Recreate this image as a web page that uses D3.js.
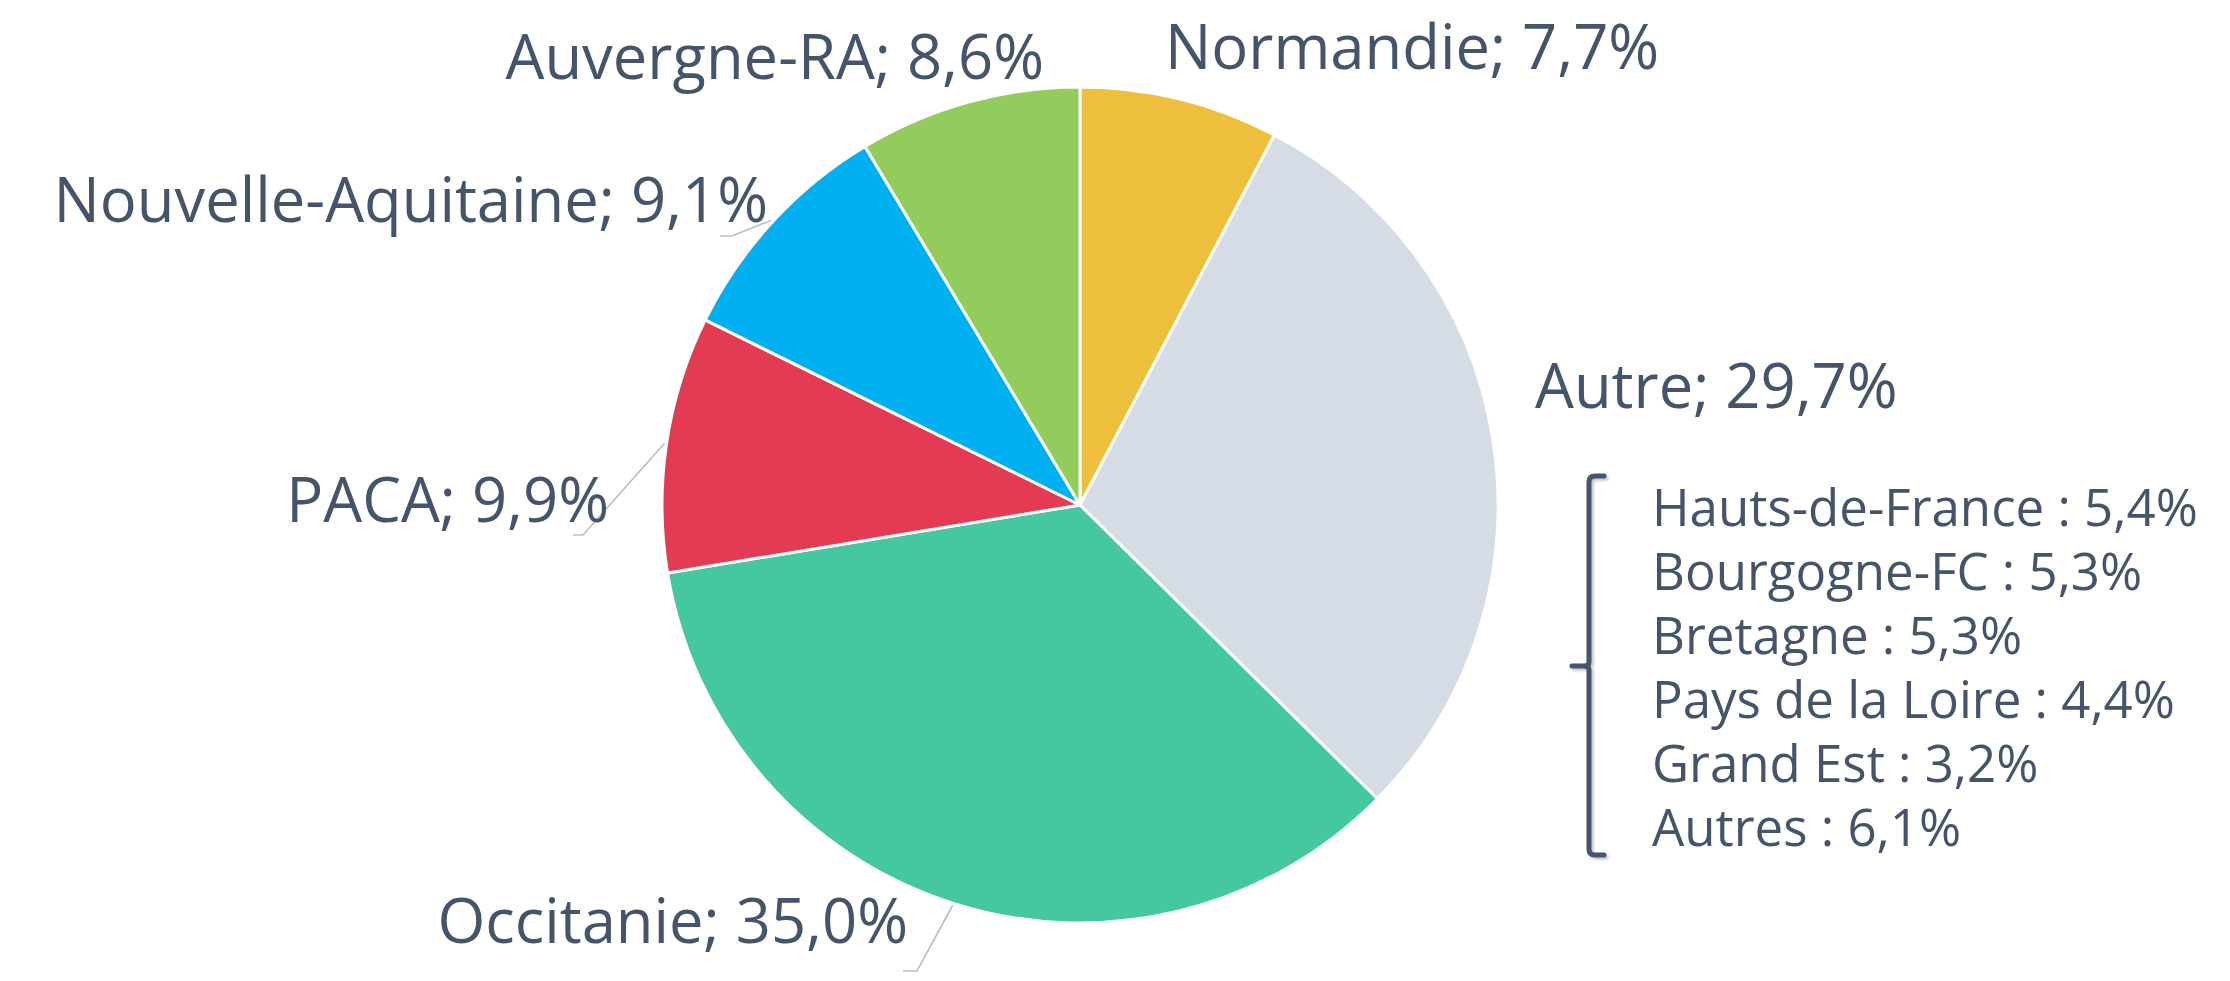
<!DOCTYPE html>
<html>
<head>
<meta charset="utf-8">
<script src="https://cdn.jsdelivr.net/npm/d3@7"></script>
<style>
  html, body { margin: 0; padding: 0; background: #ffffff; }
  svg { display: block; }
</style>
</head>
<body>
<svg id="chart" width="2230" height="981"></svg>
<script>
// Regional breakdown (share in %)
const regions = ["Normandie", "Autre", "Occitanie", "PACA", "Nouvelle-Aquitaine", "Auvergne-RA"];
const shares = [7.7, 29.7, 35.0, 9.9, 9.1, 8.6];
const sliceColors = ["#EDBF3C", "#D6DCE5", "#45C79F", "#E33B53", "#00B0F0", "#93CC5C"];

// Detail of the "Autre" slice
const detailRegions = ["Hauts-de-France", "Bourgogne-FC", "Bretagne", "Pays de la Loire", "Grand Est", "Autres"];
const detailShares = [5.4, 5.3, 5.3, 4.4, 3.2, 6.1];

// Layout
const W = 2230, H = 981;
const cx = 1080, cy = 505, radius = 418;
const textColor = "#44546A";
const leaderColor = "#B3BFCE";
const fontFamily = "'Segoe UI', 'Open Sans', 'Noto Sans', sans-serif";

// Label placement per slice: text anchor, anchor point, optional leader elbow
const labelLayout = [
  { anchor: "start", x: 1165, y: 69 },
  { anchor: "start", x: 1535, y: 408 },
  { anchor: "end", x: 908, y: 943, elbow: [917, 971], tail: [903, 971] },
  { anchor: "end", x: 609, y: 522, elbow: [583, 535], tail: [573, 535] },
  { anchor: "end", x: 768, y: 222, elbow: [732, 236], tail: [720, 236] },
  { anchor: "end", x: 1044, y: 79 }
];

const fmt = v => v.toFixed(1).replace(".", ",") + "%";

const svg = d3.select("#chart");

const defs = svg.append("defs");
const shadow = defs.append("filter").attr("id", "bracketShadow")
  .attr("x", "-50%").attr("y", "-10%").attr("width", "200%").attr("height", "120%");
shadow.append("feDropShadow").attr("dx", 2).attr("dy", 2)
  .attr("stdDeviation", 1.5).attr("flood-color", "#000").attr("flood-opacity", 0.25);

const data = regions.map((r, i) => ({ region: r, share: shares[i], color: sliceColors[i], layout: labelLayout[i] }));

const pie = d3.pie().sort(null).value(d => d.share);
const arcs = pie(data);
const arc = d3.arc().innerRadius(0).outerRadius(radius);
const edgeArc = d3.arc().innerRadius(radius + 2).outerRadius(radius + 2);

const g = svg.append("g").attr("transform", `translate(${cx},${cy})`);

g.selectAll("path.slice")
  .data(arcs)
  .join("path")
  .attr("class", "slice")
  .attr("d", arc)
  .attr("fill", d => d.data.color)
  .attr("stroke", "#ffffff")
  .attr("stroke-width", 3)
  .attr("stroke-linejoin", "round");

// Leader lines from slice edge to label
arcs.filter(d => d.data.layout.elbow).forEach(d => {
  const [sx, sy] = edgeArc.centroid(d);
  const L = d.data.layout;
  svg.append("polyline")
    .attr("points", [[cx + sx, cy + sy], L.elbow, L.tail].map(p => p.join(",")).join(" "))
    .attr("fill", "none")
    .attr("stroke", leaderColor)
    .attr("stroke-width", 1.6);
});

// Slice labels
svg.selectAll("text.slice-label")
  .data(arcs)
  .join("text")
  .attr("class", "slice-label")
  .attr("x", d => d.data.layout.x)
  .attr("y", d => d.data.layout.y)
  .attr("text-anchor", d => d.data.layout.anchor)
  .attr("font-family", fontFamily)
  .attr("font-size", 61.5)
  .attr("fill", textColor)
  .text(d => `${d.data.region}; ${fmt(d.data.share)}`);

// Bracket grouping the detail list
const bTop = 476, bMid = 666, bBot = 855, bX = 1589, bHook = 1604, bTip = 1572, rc = 6;
const bracket = d3.path();
bracket.moveTo(bHook, bTop);
bracket.lineTo(bX + rc, bTop);
bracket.quadraticCurveTo(bX, bTop, bX, bTop + rc);
bracket.lineTo(bX, bMid - 4);
bracket.quadraticCurveTo(bX, bMid, bX - 5, bMid);
bracket.lineTo(bTip, bMid);
bracket.moveTo(bX - 5, bMid);
bracket.quadraticCurveTo(bX, bMid, bX, bMid + 4);
bracket.lineTo(bX, bBot - rc);
bracket.quadraticCurveTo(bX, bBot, bX + rc, bBot);
bracket.lineTo(bHook, bBot);
svg.append("path")
  .attr("d", bracket.toString())
  .attr("fill", "none")
  .attr("stroke", textColor)
  .attr("stroke-width", 5)
  .attr("stroke-linecap", "round")
  .attr("stroke-linejoin", "round")
  .attr("filter", "url(#bracketShadow)");

// Detail list
const listY = d3.scalePoint().domain(detailRegions).range([526, 846]);
svg.selectAll("text.detail")
  .data(detailRegions.map((r, i) => ({ region: r, share: detailShares[i] })))
  .join("text")
  .attr("class", "detail")
  .attr("x", 1652)
  .attr("y", d => listY(d.region))
  .attr("font-family", fontFamily)
  .attr("font-size", 51)
  .attr("fill", textColor)
  .text(d => `${d.region} : ${fmt(d.share)}`);
</script>
</body>
</html>
